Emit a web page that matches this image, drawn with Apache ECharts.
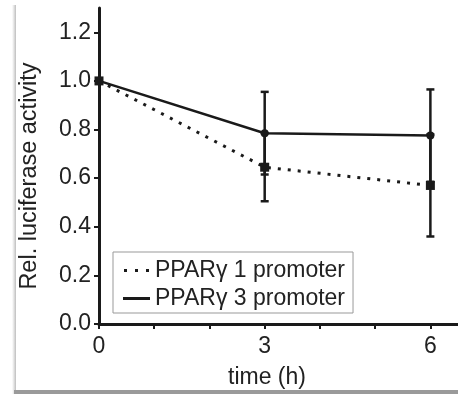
<!DOCTYPE html>
<html>
<head>
<meta charset="utf-8">
<script src="https://cdn.jsdelivr.net/npm/echarts@6/dist/echarts.min.js"></script>
<style>
html,body{margin:0;padding:0;background:#fff;}
#c{width:458px;height:394px;}
</style>
</head>
<body>
<div id="c"></div>
<script>
// ---- data ----
const timePoints = [0, 3, 6];
const promoter1 = [1.0, 0.645, 0.57];
const promoter1Err = [0, 0.14, 0.21];
const promoter3 = [1.0, 0.785, 0.775];
const promoter3Err = [0, 0.17, 0.19];
const yTickValues = [0, 0.2, 0.4, 0.6, 0.8, 1.0, 1.2];
const xTickValues = [0, 1, 2, 3, 4, 5, 6];
const xLabelValues = [0, 3, 6];
const seriesNames = ['PPARγ 1 promoter', 'PPARγ 3 promoter'];
const xTitle = 'time (h)';
const yTitle = 'Rel. luciferase activity';

const ink = '#1a1a1a';
const font = 'Liberation Sans, Arial, sans-serif';
const fs = 23;

function pts(vals) { return timePoints.map((t, i) => [t, vals[i]]); }
function errData(vals, errs) { return timePoints.map((t, i) => [t, vals[i] - errs[i], vals[i] + errs[i]]); }

function errRender(params, api) {
  const x = api.value(0);
  const lo = api.coord([x, api.value(1)]);
  const hi = api.coord([x, api.value(2)]);
  if (Math.abs(hi[1] - lo[1]) < 1) return null;
  const hw = 4;
  const st = { stroke: ink, lineWidth: 2.5 };
  return {
    type: 'group',
    children: [
      { type: 'line', shape: { x1: lo[0], y1: lo[1], x2: hi[0], y2: hi[1] }, style: st },
      { type: 'line', shape: { x1: lo[0] - hw, y1: lo[1], x2: lo[0] + hw, y2: lo[1] }, style: st },
      { type: 'line', shape: { x1: hi[0] - hw, y1: hi[1], x2: hi[0] + hw, y2: hi[1] }, style: st }
    ]
  };
}

const chart = echarts.init(document.getElementById('c'), null, { renderer: 'canvas' });
chart.setOption({
  animation: false,
  backgroundColor: '#fff',
  textStyle: { fontFamily: font },
  grid: { left: 99, right: 0, top: 8, bottom: 70, containLabel: false },
  xAxis: {
    type: 'value', min: 0, max: 6.5, interval: 1,
    axisLine: { lineStyle: { color: ink, width: 3 } },
    axisTick: { show: true, length: 5, lineStyle: { color: ink, width: 2 }, customValues: xTickValues },
    axisLabel: { customValues: xLabelValues, color: '#222', fontSize: fs, margin: 11, fontFamily: font },
    splitLine: { show: false }
  },
  yAxis: {
    type: 'value', min: 0, max: 1.3, interval: 0.2,
    axisLine: { show: true, lineStyle: { color: ink, width: 3 } },
    axisTick: { show: true, length: 5, lineStyle: { color: ink, width: 2 }, customValues: yTickValues },
    axisLabel: { customValues: yTickValues, color: '#222', fontSize: fs, margin: 8, fontFamily: font,
      formatter: v => v.toFixed(1) },
    splitLine: { show: false }
  },
  legend: {
    orient: 'vertical', left: 113, top: 252,
    padding: [7, 8, 3, 10],
    backgroundColor: '#fff', borderColor: '#999', borderWidth: 1, borderRadius: 0,
    itemWidth: 27, itemHeight: 3, itemGap: 5,
    textStyle: { fontSize: fs, color: '#222', fontFamily: font },
    data: [
      { name: seriesNames[0], icon: 'path://M0,0h3v3h-3zM11,0h3v3h-3zM22,0h3v3h-3z', itemStyle: { color: ink } },
      { name: seriesNames[1], icon: 'rect', itemStyle: { color: ink } }
    ]
  },
  graphic: [
    { type: 'rect', shape: { x: 12, y: 5, width: 4, height: 389 },
      style: { fill: new echarts.graphic.LinearGradient(0, 0, 1, 0, [{ offset: 0, color: 'rgba(200,200,200,0)' }, { offset: 1, color: '#bdbdbd' }]) }, z: -1 },
    { type: 'rect', shape: { x: 14, y: 390, width: 444, height: 4 }, style: { fill: '#9a9a9a' }, z: -1 },
    { type: 'text', x: 30, y: 176, rotation: Math.PI / 2,
      style: { text: yTitle, fontSize: 23.5, fill: '#222', fontFamily: font, align: 'center', verticalAlign: 'middle' } },
    { type: 'text', x: 267, y: 378,
      style: { text: xTitle, fontSize: fs, fill: '#222', fontFamily: font, align: 'center', verticalAlign: 'middle' } }
  ],
  series: [
    {
      name: seriesNames[1], type: 'line', data: pts(promoter3), z: 3,
      lineStyle: { color: ink, width: 2.5, type: 'solid' },
      symbol: 'circle', symbolSize: 8, itemStyle: { color: ink }
    },
    {
      name: seriesNames[0], type: 'line', data: pts(promoter1), z: 4,
      lineStyle: { color: ink, width: 3, type: [3, 7] },
      symbol: 'rect', symbolSize: 9, itemStyle: { color: ink }
    },
    { type: 'custom', data: errData(promoter3, promoter3Err), renderItem: errRender, z: 5, encode: { x: 0, y: [1, 2] } },
    { type: 'custom', data: errData(promoter1, promoter1Err), renderItem: errRender, z: 5, encode: { x: 0, y: [1, 2] } }
  ]
});
</script>
</body>
</html>
